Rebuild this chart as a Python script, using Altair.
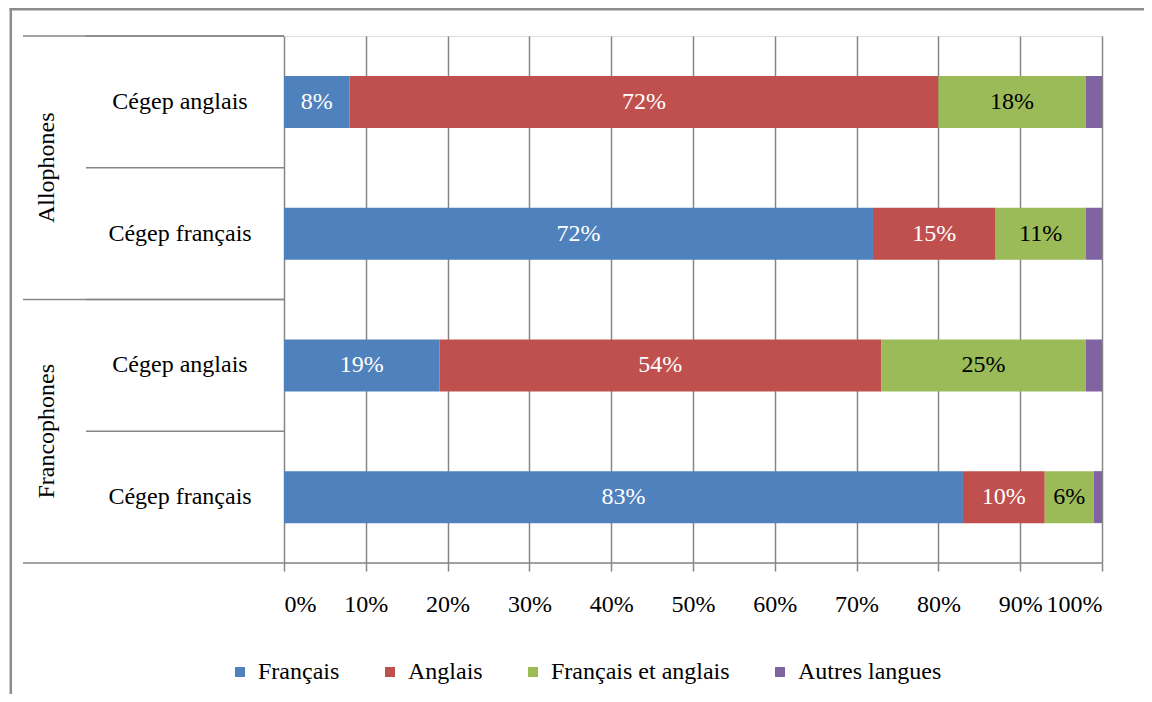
import altair as alt
import pandas as pd

# ---- data ----
groups = ["Allophones", "Allophones", "Francophones", "Francophones"]
cegeps = ["Cégep anglais", "Cégep français", "Cégep anglais", "Cégep français"]
series = ["Français", "Anglais", "Français et anglais", "Autres langues"]
colors = ["#4F81BD", "#C0504D", "#9BBB59", "#8064A2"]
pct_francais = [8, 72, 19, 83]
pct_anglais = [72, 15, 54, 10]
pct_fr_en = [18, 11, 25, 6]
pct_autres = [2, 2, 2, 1]
x_ticks = [0, 10, 20, 30, 40, 50, 60, 70, 80, 90, 100]
group_order = ["Allophones", "Francophones"]

values = [pct_francais, pct_anglais, pct_fr_en, pct_autres]
row_keys = [f"{g}|{c}" for g, c in zip(groups, cegeps)]
recs = []
for i, key in enumerate(row_keys):
    start = 0
    for s, vals in zip(series, values):
        v = vals[i]
        recs.append(dict(row=key, group=groups[i], cegep=cegeps[i], series=s,
                         start=start, end=start + v, mid=start + v / 2,
                         label=f"{v}%", show=(s != "Autres langues")))
        start += v
df = pd.DataFrame(recs)
df_rows = pd.DataFrame({"row": row_keys, "cegep": cegeps})
df_groups = pd.DataFrame({"group": group_order})
df_one = pd.DataFrame({"k": [0]})

W, H = 818, 527
PAD = {"left": 276, "top": 28, "right": 42, "bottom": 131}
FONT = "Liberation Serif"
GRAY = "#868686"
FRAME = "#8c8c8c"

row_scale = alt.Scale(domain=row_keys, paddingInner=0, paddingOuter=0)
grp_scale = alt.Scale(domain=group_order, paddingInner=0, paddingOuter=0)

bars = alt.Chart(df).mark_bar(size=52).encode(
    x=alt.X("start:Q", scale=alt.Scale(domain=[0, 100], nice=False),
            axis=alt.Axis(values=x_ticks, labelExpr="datum.value + '%'", grid=True,
                          gridColor=GRAY, gridWidth=1.5, tickColor=GRAY, tickWidth=1.5,
                          tickSize=8, domain=False, labelFont=FONT, labelFontSize=24,
                          labelColor="black", labelPadding=21, title=None)),
    x2="end:Q",
    y=alt.Y("row:N", scale=row_scale, axis=None),
    color=alt.Color("series:N", scale=alt.Scale(domain=series, range=colors),
                    legend=alt.Legend(orient="none", legendX=-56, legendY=624,
                                      direction="horizontal", title=None,
                                      symbolType="square", symbolSize=100,
                                      symbolStrokeWidth=0, symbolOpacity=1,
                                      labelFont=FONT, labelFontSize=24,
                                      labelColor="black", columnPadding=38,
                                      labelOffset=6, labelLimit=0)),
)

seg_labels = alt.Chart(df).transform_filter("datum.show").mark_text(
    font=FONT, fontSize=24, align="center", baseline="middle").encode(
    x=alt.X("mid:Q"),
    y=alt.Y("row:N", scale=row_scale, axis=None),
    text="label:N",
    color=alt.condition("datum.series == 'Français et anglais'",
                        alt.value("black"), alt.value("white")),
)

cat_labels = alt.Chart(df_rows).mark_text(
    font=FONT, fontSize=24, align="center", baseline="middle", color="black").encode(
    y=alt.Y("row:N", scale=row_scale, axis=None),
    x=alt.value(-104),
    text="cegep:N",
)

grp_labels = alt.Chart(df_groups).mark_text(
    font=FONT, fontSize=24, align="center", baseline="middle", angle=270,
    color="black").encode(
    y=alt.Y("group:N", scale=grp_scale, axis=None),
    x=alt.value(-237),
    text="group:N",
)

row_rules = alt.Chart(df_rows).mark_rule(color=GRAY, strokeWidth=1.5).encode(
    y=alt.Y("row:N", scale=row_scale, axis=None, bandPosition=0),
    x=alt.value(-198), x2=alt.value(0),
)

grp_rules = alt.Chart(df_groups).mark_rule(color=GRAY, strokeWidth=1.5).encode(
    y=alt.Y("group:N", scale=grp_scale, axis=None, bandPosition=0),
    x=alt.value(-261), x2=alt.value(0),
)

bottom_rule = alt.Chart(df_one).mark_rule(color=GRAY, strokeWidth=1.5).encode(
    y=alt.value(H), x=alt.value(-261), x2=alt.value(W),
)

frame_left = alt.Chart(df_one).mark_rule(color=FRAME, strokeWidth=2.5).encode(
    x=alt.value(-273.2), y=alt.value(-40), y2=alt.value(H + 200),
)
frame_top = alt.Chart(df_one).mark_rule(color=FRAME, strokeWidth=2.5).encode(
    y=alt.value(-26.8), x=alt.value(-274.4), x2=alt.value(W + 100),
)

chart = alt.layer(
    bars, seg_labels, cat_labels, grp_labels, row_rules, grp_rules,
    bottom_rule, frame_left, frame_top
).resolve_scale(y="independent").properties(
    width=W, height=H, padding=PAD,
    autosize=alt.AutoSizeParams(type="none"),
).configure_view(stroke=None).configure(font=FONT)

chart.save("out.html", embed_options={"renderer": "svg", "actions": False})
